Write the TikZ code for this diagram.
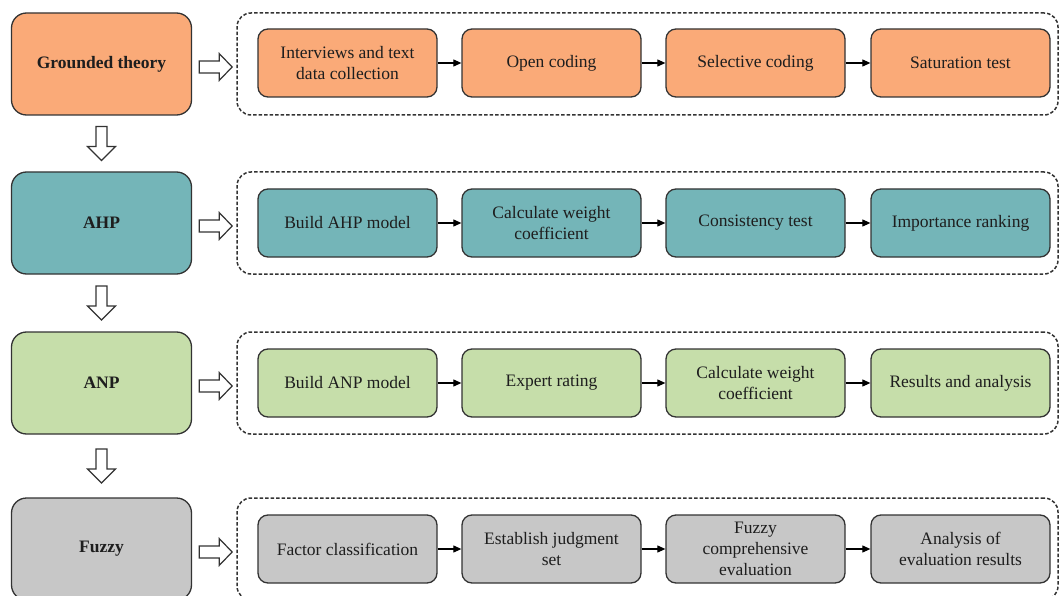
\documentclass[tikz,border=0pt]{standalone}
\usepackage{fontspec}
\setmainfont{Liberation Serif}
\usetikzlibrary{arrows.meta,calc}

\definecolor{linec}{HTML}{333333}
\definecolor{txtc}{HTML}{1E1E1E}
\definecolor{peach}{HTML}{FAAA78}
\definecolor{teal}{HTML}{74B5B8}
\definecolor{sage}{HTML}{C6DEAA}
\definecolor{greyc}{HTML}{C7C7C7}

\tikzset{
  mainbox/.style={draw=linec, line width=1.3pt, rounded corners=15pt,
    minimum width=180pt, minimum height=102pt, text=txtc,
    font=\bfseries\fontsize{17.5}{21}\selectfont},
  stepbox/.style={draw=linec, line width=1.3pt, rounded corners=10pt,
    minimum width=179pt, minimum height=68pt, text=txtc, align=center,
    font=\fontsize{17.5}{21}\selectfont},
  groupbox/.style={draw=linec, line width=1.5pt, dash pattern=on 3.5pt off 2pt,
    rounded corners=14pt, minimum width=821pt, minimum height=102pt},
  flow/.style={draw=black, line width=1.1pt, -{Triangle[length=8pt,width=7pt]}},
  barrow/.style={draw=linec, line width=1.2pt, fill=white, line join=miter},
  blockR/.pic={\draw[barrow] (0,-6) -- (20,-6) -- (20,-13.5) -- (33,0)
      -- (20,13.5) -- (20,6) -- (0,6) -- cycle;},
  blockD/.pic={\draw[barrow] (-5.5,0) -- (-5.5,20) -- (-14,20) -- (0,34)
      -- (14,20) -- (5.5,20) -- (5.5,0) -- cycle;}
}

\begin{document}
\begin{tikzpicture}[x=1pt,y=-1pt]
\useasboundingbox (0,0) rectangle (1060,596);
\clip (0,0) rectangle (1060,596);

% method blocks on the left
\node[mainbox, fill=peach] (gt)  at (101.5,64)  {Grounded theory};
\node[mainbox, fill=teal]  (ahp) at (101.5,223) {AHP};
\node[mainbox, fill=sage]  (anp) at (101.5,383) {ANP};
\node[mainbox, fill=greyc] (fz)  at (101.5,549) {Fuzzy};

% dashed frames holding the steps
\node[groupbox] (gtG)  at (647.5,64)  {};
\node[groupbox] (ahpG) at (647.5,223) {};
\node[groupbox] (anpG) at (647.5,383) {};
\node[groupbox] (fzG)  at (647.5,549) {};

% step boxes
\node[stepbox, fill=peach] (gt1) at (347.5,63) {Interviews and text\\data collection};
\node[stepbox, fill=peach] (gt2) at (551.5,63) {Open coding};
\node[stepbox, fill=peach] (gt3) at (755.5,63) {Selective coding};
\node[stepbox, fill=peach] (gt4) at (960.5,63) {Saturation test};

\node[stepbox, fill=teal] (ahp1) at (347.5,223) {Build AHP model};
\node[stepbox, fill=teal] (ahp2) at (551.5,223) {Calculate weight\\coefficient};
\node[stepbox, fill=teal] (ahp3) at (755.5,223) {Consistency test};
\node[stepbox, fill=teal] (ahp4) at (960.5,223) {Importance ranking};

\node[stepbox, fill=sage] (anp1) at (347.5,383) {Build ANP model};
\node[stepbox, fill=sage] (anp2) at (551.5,383) {Expert rating};
\node[stepbox, fill=sage] (anp3) at (755.5,383) {Calculate weight\\coefficient};
\node[stepbox, fill=sage] (anp4) at (960.5,383) {Results and analysis};

\node[stepbox, fill=greyc] (fz1) at (347.5,549) {Factor classification};
\node[stepbox, fill=greyc] (fz2) at (551.5,549) {Establish judgment\\set};
\node[stepbox, fill=greyc] (fz3) at (755.5,549) {Fuzzy\\comprehensive\\evaluation};
\node[stepbox, fill=greyc] (fz4) at (960.5,549) {Analysis of\\evaluation results};

% arrows between steps
\foreach \r in {gt,ahp,anp,fz}{
  \draw[flow] (\r1) -- (\r2);
  \draw[flow] (\r2) -- (\r3);
  \draw[flow] (\r3) -- (\r4);
}

% hollow block arrows: method -> its steps
\foreach \r in {gt,ahp,anp,fz}{
  \path ($(\r.east)+(7,3)$) pic{blockR};
}

% hollow block arrows between methods
\path ($(gt.south)!0.5!(ahp.north)+(0,-17)$) pic{blockD};
\path ($(ahp.south)!0.5!(anp.north)+(0,-17)$) pic{blockD};
\path ($(anp.south)!0.5!(fz.north)+(0,-17)$) pic{blockD};
\end{tikzpicture}
\end{document}
